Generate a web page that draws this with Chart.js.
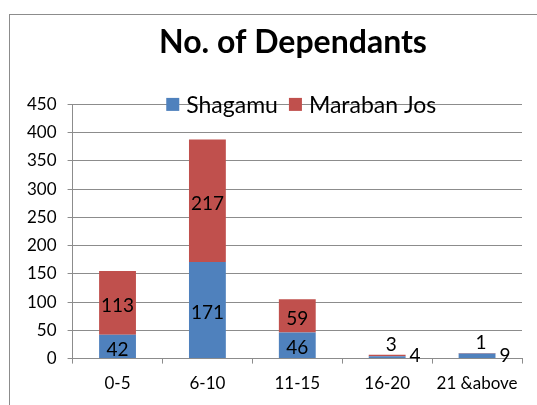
<!DOCTYPE html>
<html>
<head>
<meta charset="utf-8">
<script src="https://cdn.jsdelivr.net/npm/chart.js@4"></script>
<style>
  html, body { margin: 0; padding: 0; background: #fff; overflow: hidden; }
  #frame {
    position: absolute; left: 9px; top: 14px;
    width: 566px; height: 400px;
    border: 1px solid #8c8c8c;
  }
</style>
</head>
<body>
<div id="frame"><canvas id="chart"></canvas></div>
<script>
// Values
const categories = ['0-5', '6-10', '11-15', '16-20', '21 &above'];
const shagamu = [42, 171, 46, 4, 9];
const marabanJos = [113, 217, 59, 3, 1];
const yTicks = [0, 50, 100, 150, 200, 250, 300, 350, 400, 450];

const FONT = 'Lato, "Open Sans", sans-serif';
const GRID = '#8c8c8c';

// data labels: centred in the segment, small ones nudged outside like the original
const segmentLabels = {
  id: 'segmentLabels',
  afterDatasetsDraw(chart) {
    const ctx = chart.ctx;
    const last = chart.data.datasets.length - 1;
    ctx.save();
    ctx.font = '19px ' + FONT;
    ctx.fillStyle = '#000';
    ctx.textBaseline = 'middle';
    chart.data.datasets.forEach((ds, i) => {
      chart.getDatasetMeta(i).data.forEach((bar, j) => {
        const p = bar.getProps(['x', 'y', 'base', 'width'], true);
        const h = p.base - p.y;
        const txt = String(ds.data[j]);
        if (h >= 18) {
          ctx.textAlign = 'center';
          ctx.fillText(txt, p.x, (p.y + p.base) / 2 + 3);
        } else if (i === last) {
          ctx.textAlign = 'center';
          ctx.fillText(txt, p.x + 4, p.y - 10);
        } else {
          ctx.textAlign = 'left';
          ctx.fillText(txt, p.x + p.width / 2 + 4, p.base - 2);
        }
      });
    });
    ctx.restore();
  }
};

// legend sits on top of the plot, across the 450 gridline
const overlayLegend = {
  id: 'overlayLegend',
  afterDraw(chart) {
    const ctx = chart.ctx;
    const area = chart.chartArea;
    const box = 13, gap = 7, between = 11;
    ctx.save();
    ctx.font = '23px ' + FONT;
    ctx.textBaseline = 'middle';
    ctx.textAlign = 'left';
    const items = chart.data.datasets.map(ds => ({
      label: ds.label, color: ds.backgroundColor, w: ctx.measureText(ds.label).width
    }));
    let total = items.reduce((s, it) => s + box + gap + it.w, 0) + between * (items.length - 1);
    let x = (area.left + area.right) / 2 - total / 2 + 4;
    const y = area.top;
    items.forEach(it => {
      ctx.fillStyle = it.color;
      ctx.fillRect(x, y - box / 2, box, box);
      x += box + gap;
      ctx.fillStyle = '#000';
      ctx.fillText(it.label, x, y + 1);
      x += it.w + between;
    });
    ctx.restore();
  }
};

// the title is centred on the whole frame, not on the padded area
const centreTitle = {
  id: 'centreTitle',
  afterLayout(chart) {
    const t = chart.titleBlock;
    if (!t) return;
    t.left = 0;
    t.right = chart.width;
    t.width = chart.width;
  }
};

new Chart(document.getElementById('chart'), {
  type: 'bar',
  data: {
    labels: categories,
    datasets: [
      { label: 'Shagamu', data: shagamu, backgroundColor: '#4F81BD' },
      { label: 'Maraban Jos', data: marabanJos, backgroundColor: '#C0504D' }
    ]
  },
  options: {
    responsive: true,
    maintainAspectRatio: false,
    animation: false,
    layout: { padding: { left: 6, right: 54, bottom: 11 } },
    datasets: { bar: { categoryPercentage: 1, barPercentage: 0.41 } },
    scales: {
      x: {
        stacked: true,
        grid: { drawOnChartArea: false, color: GRID, tickLength: 5 },
        border: { color: GRID },
        ticks: { color: '#000', font: { family: FONT, size: 17 }, padding: 10, maxRotation: 0 }
      },
      y: {
        stacked: true,
        min: 0,
        max: 450,
        afterBuildTicks: scale => { scale.ticks = yTicks.map(v => ({ value: v })); },
        grid: { color: GRID, tickLength: 5 },
        border: { color: GRID },
        ticks: { color: '#000', font: { family: FONT, size: 17 }, padding: 11 }
      }
    },
    plugins: {
      legend: { display: false },
      tooltip: { enabled: false },
      title: {
        display: true,
        text: 'No. of Dependants',
        color: '#000',
        font: { family: FONT, size: 32, weight: 'bold' },
        padding: { top: 8, bottom: 43 }
      }
    }
  },
  plugins: [segmentLabels, overlayLegend, centreTitle]
});
</script>
</body>
</html>
